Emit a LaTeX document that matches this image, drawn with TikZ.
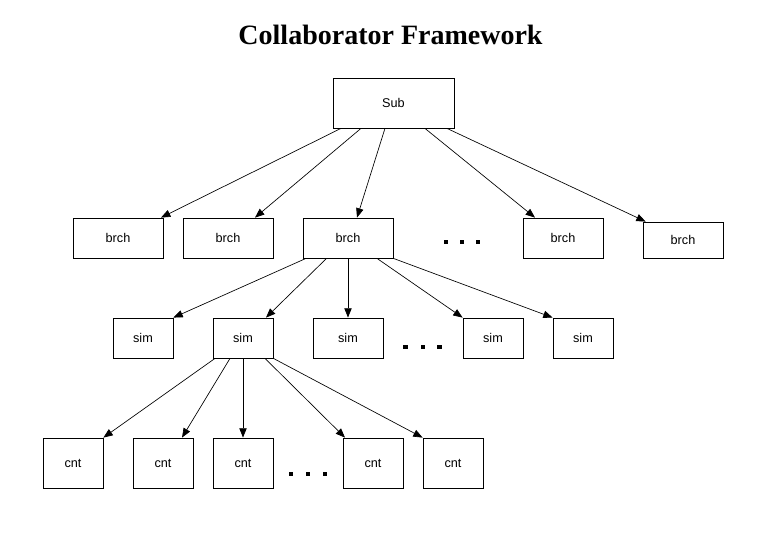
\documentclass[tikz,border=0pt]{standalone}
\usepackage{fontspec}
\setmainfont{Liberation Serif}
\newfontfamily\boxfont{Liberation Sans}
\usetikzlibrary{arrows.meta}
\tikzset{
  box/.style={draw, line width=0.6pt, inner sep=0pt, font=\boxfont\fontsize{9.5}{11}\selectfont},
  conn/.style={line width=0.5pt, -{Triangle[length=7pt,width=5.5pt]}},
  dotsq/.style={fill=black},
}
\begin{document}
\begin{tikzpicture}[x=0.75pt,y=-0.75pt]
\useasboundingbox (0,0) rectangle (776,542);
\node[font=\bfseries\fontsize{21}{25}\selectfont, anchor=base, inner sep=0pt] (title) at (390.5,45) {Collaborator Framework};

\node[box, minimum width=90.75pt, minimum height=37.5pt] (sub) at (393.5,103) {Sub};

\node[box, minimum width=67.5pt, minimum height=30pt] (b1) at (118,238) {brch};
\node[box, minimum width=67.5pt, minimum height=30pt] (b2) at (228,238) {brch};
\node[box, minimum width=67.5pt, minimum height=30pt] (b3) at (348,238) {brch};
\node[box, minimum width=60pt, minimum height=30pt] (b4) at (563,238) {brch};
\node[box, minimum width=60pt, minimum height=27pt] (b5) at (683,240) {brch};

\node[box, minimum width=45pt, minimum height=30pt] (s1) at (143,338) {sim};
\node[box, minimum width=45pt, minimum height=30pt] (s2) at (243,338) {sim};
\node[box, minimum width=52.5pt, minimum height=30pt] (s3) at (348,338) {sim};
\node[box, minimum width=45pt, minimum height=30pt] (s4) at (493,338) {sim};
\node[box, minimum width=45pt, minimum height=30pt] (s5) at (583,338) {sim};

\node[box, minimum width=45pt, minimum height=37.5pt] (c1) at (73,463) {cnt};
\node[box, minimum width=45pt, minimum height=37.5pt] (c2) at (163,463) {cnt};
\node[box, minimum width=45pt, minimum height=37.5pt] (c3) at (243,463) {cnt};
\node[box, minimum width=45pt, minimum height=37.5pt] (c4) at (373,463) {cnt};
\node[box, minimum width=45pt, minimum height=37.5pt] (c5) at (453,463) {cnt};

% Sub -> brch
\draw[conn] ([xshift=-39.4pt]sub.south) -- ([xshift=32.25pt]b1.north);
\draw[conn] ([xshift=-24.4pt]sub.south) -- ([xshift=20.25pt]b2.north);
\draw[conn] ([xshift=-6.4pt]sub.south) -- ([xshift=6.75pt]b3.north);
\draw[conn] ([xshift=23.6pt]sub.south) -- ([xshift=-21pt]b4.north);
\draw[conn] ([xshift=40.1pt]sub.south) -- ([xshift=-28pt]b5.north);

% brch -> sim
\draw[conn] ([xshift=-31.5pt]b3.south) -- (s1.north east);
\draw[conn] ([xshift=-16.1pt]b3.south) -- ([xshift=17.25pt]s2.north);
\draw[conn] (b3.south) -- (s3.north);
\draw[conn] ([xshift=21.75pt]b3.south) -- (s4.north west);
\draw[conn] (b3.south east) -- (s5.north west);

% sim -> cnt
\draw[conn] ([xshift=-21pt]s2.south) -- (c1.north east);
\draw[conn] ([xshift=-9.75pt]s2.south) -- ([xshift=14.25pt]c2.north);
\draw[conn] (s2.south) -- (c3.north);
\draw[conn] ([xshift=16.5pt]s2.south) -- ([xshift=-21pt]c4.north);
\draw[conn] (s2.south east) -- (c5.north west);

% dots
\foreach \x in {446,462,478} \fill[dotsq] (\x-2.2,240) rectangle (\x+2.2,244.4);
\foreach \x in {405.5,423,439.5} \fill[dotsq] (\x-2.2,344.5) rectangle (\x+2.2,348.9);
\foreach \x in {291,308,325} \fill[dotsq] (\x-2.2,472) rectangle (\x+2.2,476.4);
\end{tikzpicture}
\end{document}
